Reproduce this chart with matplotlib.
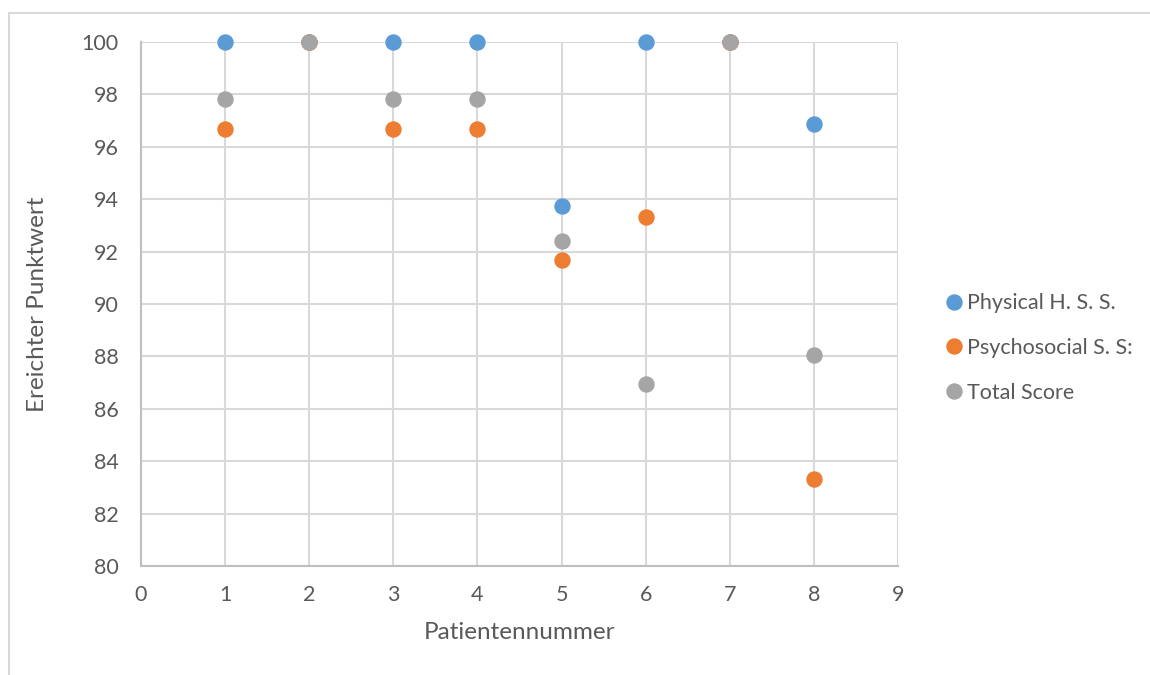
import matplotlib
matplotlib.use("Agg")
import matplotlib.pyplot as plt
from matplotlib.lines import Line2D

patients = [1, 2, 3, 4, 5, 6, 7, 8]
physical = [100, 100, 100, 100, 93.75, 100, 100, 96.875]
psychosocial = [96.67, 100, 96.67, 96.67, 91.67, 93.33, 100, 83.33]
total = [97.83, 100, 97.83, 97.83, 92.39, 86.96, 100, 88.04]
series_names = ["Physical H. S. S.", "Psychosocial S. S:", "Total Score"]
colors = ["#5b9bd5", "#ed7d31", "#a5a5a5"]
x_ticks = list(range(0, 10))
y_ticks = list(range(80, 101, 2))

plt.rcParams['font.family'] = ['Lato', 'DejaVu Sans']
text_color = "#595959"

fig = plt.figure(figsize=(11.5, 6.75), dpi=100)
ax = fig.add_axes([141/1150, 1-566/675, (898-141)/1150, (566-42)/675])

for vals, name, c in zip([physical, psychosocial, total], series_names, colors):
    ax.plot(patients, vals, linestyle='none', marker='o', markersize=10.8,
            markerfacecolor=c, markeredgecolor=c, label=name, zorder=3, clip_on=False)

ax.set_xlim(0, 9)
ax.set_ylim(80, 100)
ax.set_xticks(x_ticks)
ax.set_yticks(y_ticks)
ax.grid(True, color="#d9d9d9", linewidth=1.5)
ax.set_axisbelow(True)
for s in ['top', 'right']:
    ax.spines[s].set_visible(False)
for s in ['left', 'bottom']:
    ax.spines[s].set_color("#bfbfbf")
    ax.spines[s].set_linewidth(1.5)
ax.tick_params(axis='both', length=0, labelsize=15.5, labelcolor=text_color)
ax.tick_params(axis='x', pad=14)
ax.tick_params(axis='y', pad=16)

ax.set_xlabel("Patientennummer", fontsize=17.5, color=text_color, labelpad=12)
ax.set_ylabel("Ereichter Punktwert", fontsize=17.5, color=text_color, labelpad=24)

handles = [Line2D([], [], linestyle='none', marker='o', markersize=10.8,
                  markerfacecolor=c, markeredgecolor=c) for c in colors]
leg = fig.legend(handles, series_names, loc='center left',
                 bbox_to_anchor=(928/1150, 1-348/675), frameon=False,
                 fontsize=15.5, handlelength=0.6, handletextpad=0.3,
                 labelspacing=1.15, labelcolor=text_color)

# figure border
fig.add_artist(Line2D([8.5/1150, 8.5/1150], [0, 1-13/675], transform=fig.transFigure,
                      color="#d9d9d9", linewidth=1.5))
fig.add_artist(Line2D([8.5/1150, 1], [1-13/675, 1-13/675], transform=fig.transFigure,
                      color="#d9d9d9", linewidth=1.5))

fig.savefig("out.png", dpi=100)
